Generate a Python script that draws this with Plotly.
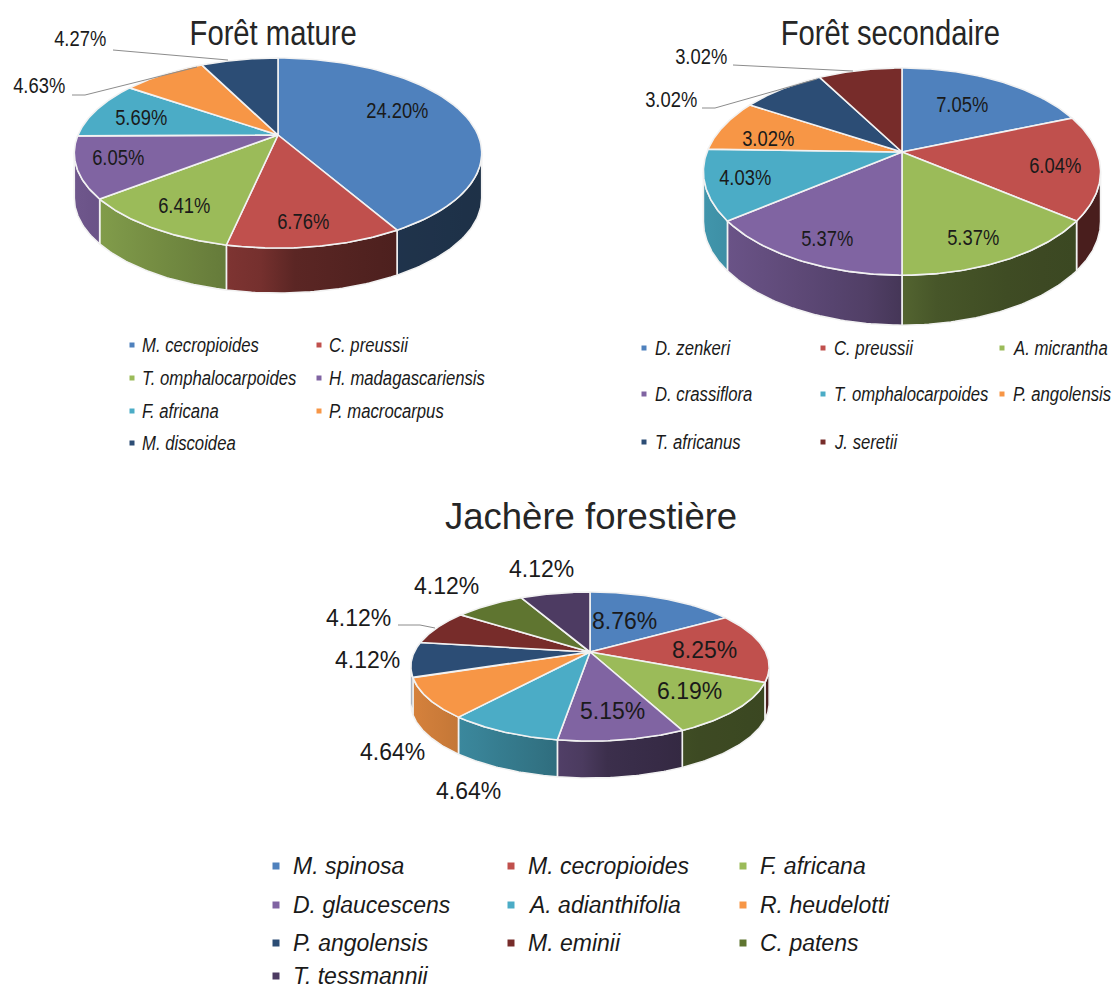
import numpy as np
import plotly.graph_objects as go

# ---------- data ----------
mature_names = ["M. cecropioides", "C. preussii", "T. omphalocarpoides", "H. madagascariensis",
                "F. africana", "P. macrocarpus", "M. discoidea"]
mature_values = [24.20, 6.76, 6.41, 6.05, 5.69, 4.63, 4.27]

secondaire_names = ["D. zenkeri", "C. preussii", "A. micrantha", "D. crassiflora",
                    "T. omphalocarpoides", "P. angolensis", "T. africanus", "J. seretii"]
secondaire_values = [7.05, 6.04, 5.37, 5.37, 4.03, 3.02, 3.02, 3.02]

jachere_names = ["M. spinosa", "M. cecropioides", "F. africana", "D. glaucescens", "A. adianthifolia",
                 "R. heudelotti", "P. angolensis", "M. eminii", "C. patens", "T. tessmannii"]
jachere_values = [8.76, 8.25, 6.19, 5.15, 4.64, 4.64, 4.12, 4.12, 4.12, 4.12]

palette = ["#4F81BD", "#C0504D", "#9BBB59", "#8064A2", "#4BACC6",
           "#F79646", "#2C4D75", "#772C2A", "#5F7530", "#4D3B62"]

# ---------- layout of the three charts (pixel canvas) ----------
SANS = "Liberation Sans, Arial"
CONDENSE = 0.835  # the two upper charts are horizontally squeezed in the reference

charts = [
    dict(title="Forêt mature", names=mature_names, values=mature_values,
         cx=278, cy=135, R=200, S=91.6, k=0.19, depth=45, condensed=True,
         title_xy=(273, 32), title_size=35, label_size=22,
         label_xy=[(397, 110), (303, 221), (184, 205), (118, 157), (141, 117), (39, 85), (80, 38)],
         leaders=[[(113, 50), (228, 60)], [(72, 95), (85, 95), (197, 67)]],
         leg_size=20, leg_marker=5, leg_x=[132, 319], leg_text_dx=8, leg_cols=2,
         leg_y=[345, 378, 411, 443]),
    dict(title="Forêt secondaire", names=secondaire_names, values=secondaire_values,
         cx=902, cy=152, R=195, S=99.9, k=0.189, depth=50, condensed=True,
         title_xy=(890, 32), title_size=35, label_size=22,
         label_xy=[(962, 104), (1055, 165), (973, 237), (827, 238), (745, 177), (768, 138), (671, 99), (701, 56)],
         leaders=[[(733, 65), (853, 71)], [(702, 108), (715, 108), (817, 79)]],
         leg_size=20, leg_marker=5, leg_x=[644, 823, 1002], leg_text_dx=9, leg_cols=3,
         leg_y=[348, 394, 442]),
    dict(title="Jachère forestière", names=jachere_names, values=jachere_values,
         cx=590, cy=652, R=175.7, S=71.7, k=0.195, depth=37, condensed=False,
         title_xy=(591, 516), title_size=36.5, label_size=23,
         label_xy=[(624, 621), (704, 650), (689, 691), (612, 711), (392, 752), (468, 791),
                   (367, 660), (358, 618), (446, 586), (541, 569)],
         leaders=[[(398, 625), (420, 625), (435, 628)]],
         leg_size=23, leg_marker=7, leg_x=[276, 511, 743], leg_text_dx=15, leg_cols=3,
         leg_y=[866, 905, 943, 976]),
]


def rgb(hexa):
    return np.array([int(hexa[i:i + 2], 16) for i in (1, 3, 5)], float)


def css(c):
    return "rgb(%d,%d,%d)" % tuple(np.clip(c, 0, 255))


SHADE_T = [-1.0, -0.05, 0.05, 0.6, 1.0]
SHADE_F = [0.87, 0.60, 0.48, 0.40, 0.38]

fig = go.Figure()
annotations = []
n_condensed = 0


def project(c, theta, dy=0.0):
    u, v = np.sin(theta), np.cos(theta)
    w = 1 + c["k"] * v
    return c["cx"] + c["R"] * u / w, c["cy"] - c["S"] * v / w + dy


for c in charts:
    vals = np.array(c["values"], float)
    edges = np.concatenate([[0], np.cumsum(vals)]) / vals.sum() * 2 * np.pi
    colors = palette[:len(vals)]
    half_w = c["R"] / np.sqrt(1 - c["k"] ** 2)
    vis0 = np.arctan2(np.sqrt(1 - c["k"] ** 2), -c["k"])
    vis1 = 2 * np.pi - vis0

    # side walls (only the front-facing part of the rim)
    for a0, a1, col in zip(edges[:-1], edges[1:], colors):
        lo, hi = max(a0, vis0), min(a1, vis1)
        if hi <= lo:
            continue
        th = np.linspace(lo, hi, 50)
        xt, yt = project(c, th)
        xb, yb = project(c, th[::-1], c["depth"])
        xs = np.concatenate([xt, xb, xt[:1]])
        ys = np.concatenate([yt, yb, yt[:1]])
        x0, x1 = float(xs.min()), float(xs.max())
        stops = np.linspace(0, 1, 6)
        shades = np.interp((x0 + stops * (x1 - x0) - c["cx"]) / half_w, SHADE_T, SHADE_F)
        scale = [[float(s), css(rgb(col) * f)] for s, f in zip(stops, shades)]
        fig.add_trace(go.Scatter(
            x=xs, y=ys, mode="lines", fill="toself", hoverinfo="skip",
            line=dict(color="#F2F2F2", width=1.6),
            fillgradient=dict(type="horizontal", colorscale=scale, start=x0, stop=x1),
            showlegend=False))

    # top faces
    for a0, a1, col, name, v in zip(edges[:-1], edges[1:], colors, c["names"], c["values"]):
        th = np.linspace(a0, a1, 70)
        xt, yt = project(c, th)
        fig.add_trace(go.Scatter(
            x=np.concatenate([[c["cx"]], xt, [c["cx"]]]),
            y=np.concatenate([[c["cy"]], yt, [c["cy"]]]),
            mode="lines", fill="toself", fillcolor=col, hoverinfo="text",
            hovertext=f"{name}: {v:.2f}%",
            line=dict(color="#F2F2F2", width=1.6), showlegend=False))

    # leader lines
    for pts in c["leaders"]:
        fig.add_trace(go.Scatter(
            x=[p[0] for p in pts], y=[p[1] for p in pts], mode="lines", hoverinfo="skip",
            line=dict(color="#8C8C8C", width=1), showlegend=False))

    start_count = len(annotations)
    # title
    annotations.append(dict(x=c["title_xy"][0], y=c["title_xy"][1], text=c["title"],
                            showarrow=False, xanchor="center", yanchor="middle",
                            font=dict(family=SANS, size=c["title_size"], color="#262626")))
    # data labels
    for (lx, ly), v in zip(c["label_xy"], c["values"]):
        annotations.append(dict(x=lx, y=ly, text=f"{v:.2f}%", showarrow=False,
                                xanchor="center", yanchor="middle",
                                font=dict(family=SANS, size=c["label_size"], color="#1A1A1A")))
    # legend grid
    mx, my = [], []
    for i, name in enumerate(c["names"]):
        col_i, row_i = i % c["leg_cols"], i // c["leg_cols"]
        px, py = c["leg_x"][col_i], c["leg_y"][row_i]
        mx.append(px)
        my.append(py)
        annotations.append(dict(x=px + c["leg_text_dx"], y=py, text=f"<i>{name}</i>", showarrow=False,
                                xanchor="left", yanchor="middle",
                                font=dict(family=SANS, size=c["leg_size"], color="#1A1A1A")))
    if c["condensed"]:
        n_condensed += len(annotations) - start_count
    fig.add_trace(go.Scatter(x=mx, y=my, mode="markers", hoverinfo="skip", showlegend=False,
                             marker=dict(symbol="square", size=c["leg_marker"], color=colors)))

fig.update_layout(
    width=1115, height=991, autosize=False,
    margin=dict(l=0, r=0, t=0, b=0),
    paper_bgcolor="white", plot_bgcolor="white",
    xaxis=dict(range=[0, 1115], visible=False, fixedrange=True),
    yaxis=dict(range=[991, 0], visible=False, fixedrange=True),
    annotations=annotations,
)

post = """
document.body.style.margin='0';document.body.style.overflow='hidden';
var f=%f, n=%d;
var els=document.querySelectorAll('.annotation-text');
for(var i=0;i<els.length&&i<n;i++){
  var t=els[i], w=t.getComputedTextLength(), x=parseFloat(t.getAttribute('x'))||0;
  var left=!!t.querySelector('tspan');
  var x0=left?x-w/2:x;
  t.setAttribute('transform','translate('+x0+',0) scale('+f+',1) translate('+(-x0)+',0)');
  if(left){
    var r=t.parentNode.querySelector('rect.bg');
    if(r){r.setAttribute('width',parseFloat(r.getAttribute('width'))-(1-f)*w);}
  }
}
""" % (CONDENSE, n_condensed)

fig.write_html("out.html", post_script=post, config={"displayModeBar": False})
